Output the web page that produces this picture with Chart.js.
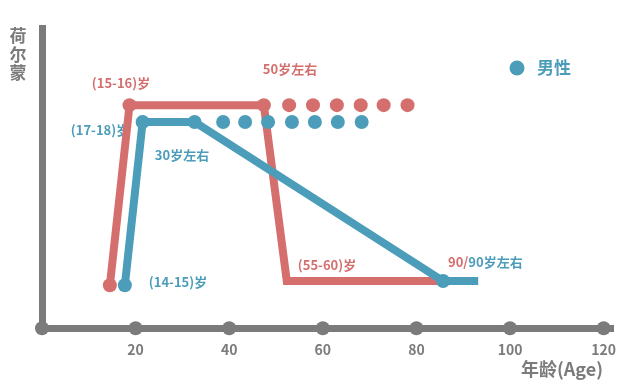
<!DOCTYPE html>
<html lang="zh">
<head>
    <meta charset="UTF-8">
    <title>荷尔蒙与年龄</title>
    <style>
        html, body { margin: 0; padding: 0; background: #fff; }
    </style>
</head>
<body>
    <canvas id="hormoneChart" width="620" height="385"></canvas>

    <script src="https://cdn.jsdelivr.net/npm/chart.js"></script>
    <script>
        // 数据 (年龄, 荷尔蒙水平)
        const femaleAge = [14.5, 18.7, 47.4, 52.3, 85.7];
        const femaleLevel = [14.3, 74.3, 74.3, 15.7, 15.7];
        const femaleMarker = [7, 7, 7, 0, 0];
        const femaleDotAge = [52.8, 57.9, 63.0, 68.1, 73.0, 78.1];

        const maleAge = [17.7, 21.5, 32.6, 85.7, 93.2];
        const maleLevel = [14.3, 68.7, 68.7, 15.7, 15.7];
        const maleMarker = [7, 7, 7, 7, 0];
        const maleDotAge = [38.7, 43.4, 48.3, 53.4, 58.3, 63.2, 68.3];

        const xTickValues = [0, 20, 40, 60, 80, 100, 120];

        const RED = '#d46f6e';
        const BLUE = '#4b9dba';
        const GRAY = '#7b7b7b';
        const FONT = '"Noto Sans CJK SC", "Noto Sans", sans-serif';

        const toPoints = (xs, ys) => xs.map((x, i) => ({ x: x, y: ys[i] }));
        const flat = (xs, y) => xs.map(x => ({ x: x, y: y }));

        // 标注文字 (像素位置)
        const notes = [
            { text: '(15-16)岁', x: 121, y: 83, color: RED },
            { text: '50岁左右', x: 290, y: 69, color: RED },
            { text: '(17-18)岁', x: 100, y: 130, color: BLUE },
            { text: '30岁左右', x: 182, y: 155, color: BLUE },
            { text: '(14-15)岁', x: 178, y: 282, color: BLUE },
            { text: '(55-60)岁', x: 327, y: 265, color: RED }
        ];

        const decorPlugin = {
            id: 'decor',
            beforeDatasetsDraw(chart) {
                const ctx = chart.ctx;
                ctx.save();
                // 标注 (在线条下面)
                ctx.font = 'bold 13px ' + FONT;
                ctx.textBaseline = 'middle';
                ctx.textAlign = 'center';
                notes.forEach(n => {
                    ctx.fillStyle = n.color;
                    ctx.fillText(n.text, n.x, n.y);
                });
                ctx.textAlign = 'left';
                ctx.fillStyle = RED;
                ctx.fillText('90/', 448, 262);
                const w = ctx.measureText('90/').width;
                ctx.fillStyle = BLUE;
                ctx.fillText('90岁左右', 448 + w, 262);
                ctx.restore();
            },
            afterDraw(chart) {
                const ctx = chart.ctx;
                const xs = chart.scales.x;
                const bottom = chart.chartArea.bottom;
                ctx.save();

                // 轴上的圆点
                ctx.fillStyle = GRAY;
                xs.ticks.forEach(t => {
                    ctx.beginPath();
                    ctx.arc(xs.getPixelForValue(t.value), bottom, 7, 0, Math.PI * 2);
                    ctx.fill();
                });

                // 图例
                ctx.textBaseline = 'middle';
                ctx.textAlign = 'left';
                ctx.fillStyle = BLUE;
                ctx.beginPath();
                ctx.arc(517, 68, 7.5, 0, Math.PI * 2);
                ctx.fill();
                ctx.font = 'bold 17px ' + FONT;
                ctx.fillText('男性', 537, 68);

                // 坐标轴标题
                ctx.fillStyle = GRAY;
                ctx.textAlign = 'center';
                ctx.font = 'bold 17px ' + FONT;
                ['荷', '尔', '蒙'].forEach((c, i) => ctx.fillText(c, 18, 36 + i * 18.5));
                ctx.textAlign = 'right';
                ctx.font = 'bold 18px ' + FONT;
                ctx.fillText('年龄(Age)', 603, 369);

                ctx.restore();
            }
        };

        const ctx = document.getElementById('hormoneChart').getContext('2d');
        const chart = new Chart(ctx, {
            type: 'scatter',
            data: {
                datasets: [
                    {
                        label: '男性',
                        data: toPoints(maleAge, maleLevel),
                        showLine: true,
                        borderColor: BLUE,
                        backgroundColor: BLUE,
                        borderWidth: 8,
                        pointRadius: maleMarker,
                        pointHoverRadius: maleMarker,
                        pointBorderWidth: 0,
                        order: 1
                    },
                    {
                        label: '男性 (延续)',
                        data: flat(maleDotAge, maleLevel[1]),
                        backgroundColor: BLUE,
                        pointRadius: 7,
                        pointBorderWidth: 0,
                        order: 2
                    },
                    {
                        label: '女性',
                        data: toPoints(femaleAge, femaleLevel),
                        showLine: true,
                        borderColor: RED,
                        backgroundColor: RED,
                        borderWidth: 8,
                        pointRadius: femaleMarker,
                        pointHoverRadius: femaleMarker,
                        pointBorderWidth: 0,
                        order: 3
                    },
                    {
                        label: '女性 (延续)',
                        data: flat(femaleDotAge, femaleLevel[1]),
                        backgroundColor: RED,
                        pointRadius: 7,
                        pointBorderWidth: 0,
                        order: 4
                    }
                ]
            },
            options: {
                responsive: false,
                animation: false,
                devicePixelRatio: 1,
                layout: { padding: { left: 42, right: 5, top: 28, bottom: 14 } },
                plugins: {
                    legend: { display: false },
                    tooltip: { enabled: false }
                },
                scales: {
                    x: {
                        type: 'linear',
                        min: 0,
                        max: 122,
                        afterBuildTicks(scale) {
                            scale.ticks = xTickValues.map(v => ({ value: v }));
                        },
                        afterFit(scale) {
                            scale.paddingLeft = 0;
                            scale.paddingRight = 0;
                        },
                        grid: { display: false, drawTicks: false },
                        border: { display: true, color: GRAY, width: 7 },
                        ticks: {
                            padding: 13,
                            color: GRAY,
                            font: { family: FONT, size: 14, weight: 'bold' },
                            callback: v => (v === 0 ? '' : v)
                        }
                    },
                    y: {
                        min: 0,
                        max: 100,
                        grid: { display: false, drawTicks: false },
                        border: { display: true, color: GRAY, width: 7 },
                        ticks: { display: false }
                    }
                }
            },
            plugins: [decorPlugin]
        });
    </script>
</body>
</html>
